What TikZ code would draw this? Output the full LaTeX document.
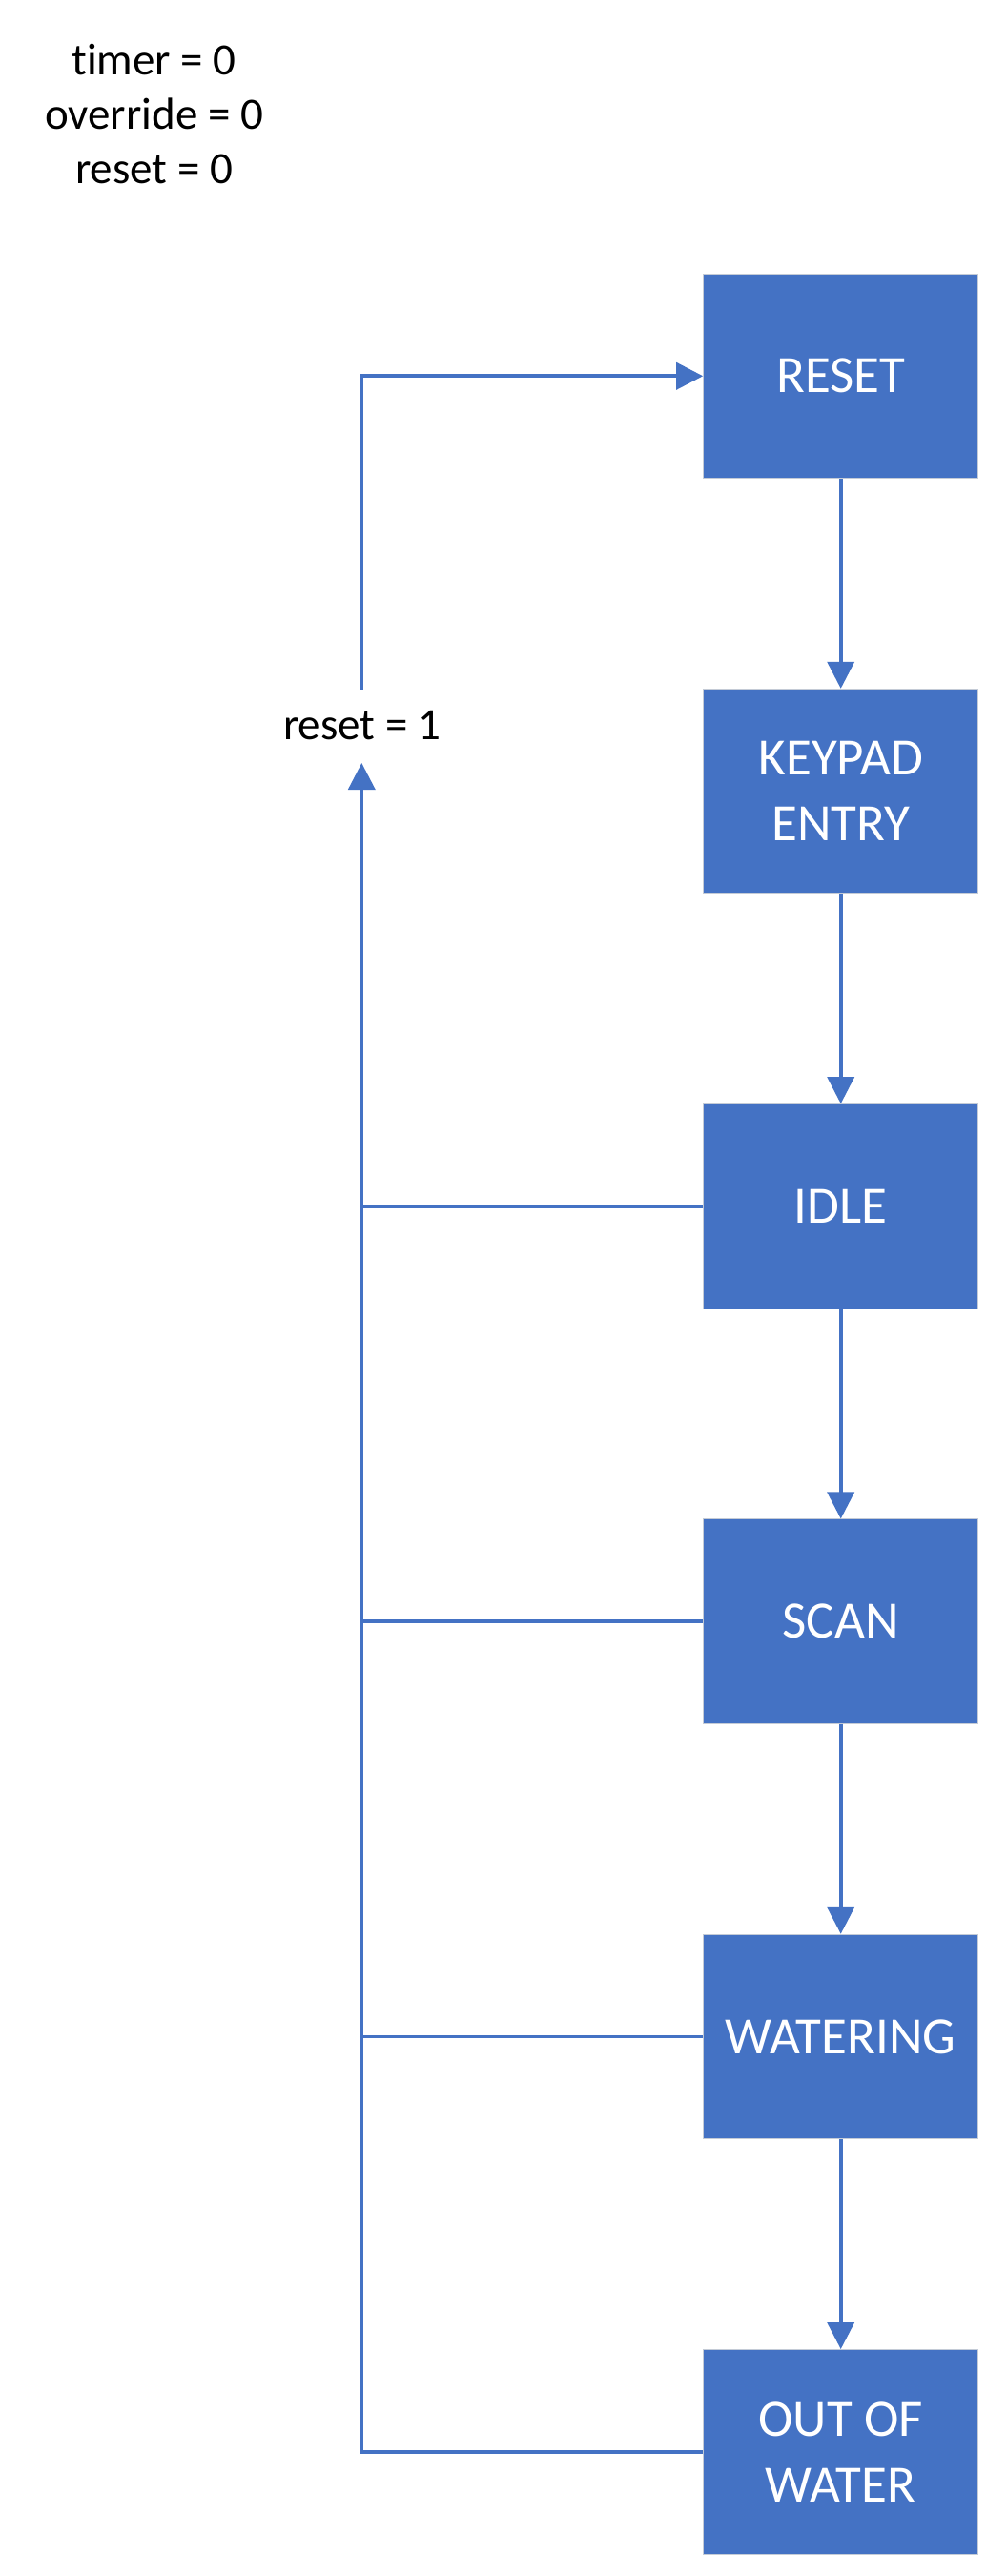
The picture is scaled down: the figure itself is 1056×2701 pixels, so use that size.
\documentclass[tikz,border=0pt]{standalone}
\usepackage{fontspec}
\setmainfont{Carlito}[Ligatures=NoCommon]
\usetikzlibrary{arrows.meta}
\definecolor{officeblue}{HTML}{4472C4}
\definecolor{boxedge}{RGB}{196,203,214}
\tikzset{
  statebox/.style={rectangle, fill=officeblue, draw=boxedge, line width=1pt,
    minimum width=288pt, minimum height=214.5pt, inner sep=0pt,
    text=white, align=center, font=\fontsize{55}{69}\selectfont},
  plaintext/.style={inner sep=0pt, anchor=base, text=black, font=\fontsize{47}{57}\selectfont},
  conn/.style={draw=officeblue, line width=3.7pt, line join=miter},
  arr/.style={conn, -{Triangle[length=28pt,width=28pt]}}
}
\begin{document}
\begin{tikzpicture}[x=1pt,y=-1pt]
\useasboundingbox (0,0) rectangle (1056,2701);
\fill[white] (0,0) rectangle (1056,2701);

\node[plaintext] (t1) at (161.5,78.3) {timer = 0};
\node[plaintext] (t2) at (161.5,135) {override = 0};
\node[plaintext] (t3) at (161.5,192.7) {reset = 0};

\node[statebox] (reset) at (881.7,394.3) {RESET};
\node[statebox] (keypad) at (881.7,829.6) {KEYPAD\\ENTRY};
\node[statebox] (idle) at (881.7,1264.9) {IDLE};
\node[statebox] (scan) at (881.7,1700.2) {SCAN};
\node[statebox] (water) at (881.7,2135.5) {WATERING};
\node[statebox] (out) at (881.7,2570.8) {OUT OF\\WATER};

\node[plaintext] (r1) at (379.5,775) {reset = 1};
\coordinate (upTip) at (379.3,800);
\coordinate (upTop) at (379.3,723);

\draw[arr] (reset.south) -- (keypad.north);
\draw[arr] (keypad.south) -- (idle.north);
\draw[arr] (idle.south) -- (scan.north);
\draw[arr] (scan.south) -- (water.north);
\draw[arr] (water.south) -- (out.north);

\draw[arr] (out.west) -| (upTip);
\draw[conn] (idle.west) -- (idle.west -| upTip);
\draw[conn] (scan.west) -- (scan.west -| upTip);
\draw[conn] (water.west) -- (water.west -| upTip);
\draw[arr] (upTop) |- (reset.west);
\end{tikzpicture}
\end{document}
